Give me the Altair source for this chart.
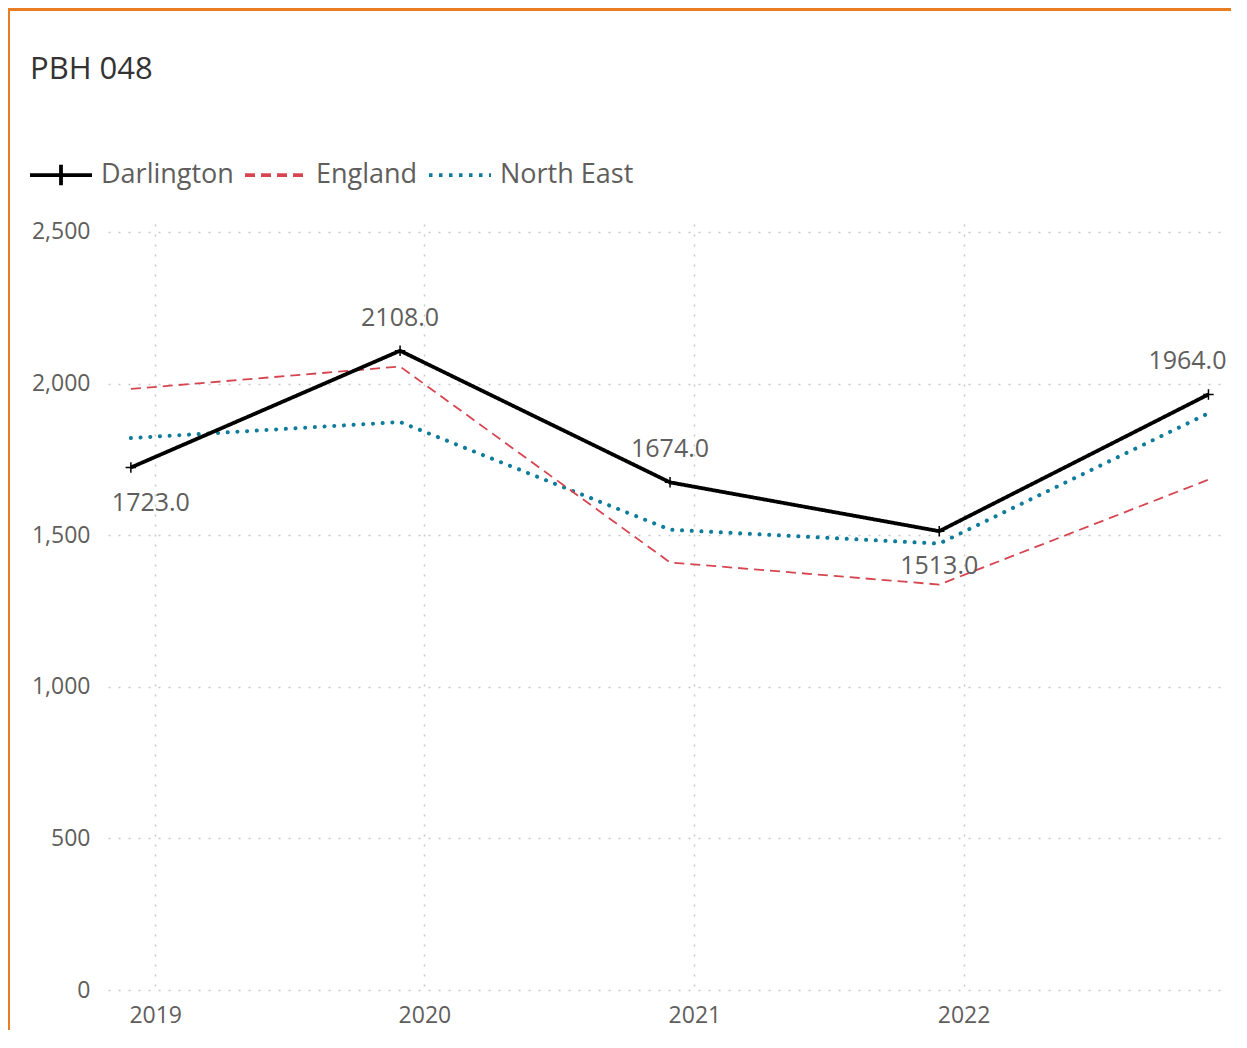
import altair as alt
import pandas as pd

series_names = ["Darlington", "England", "North East"]
dates = ["2018-11-29", "2019-11-29", "2020-11-29", "2021-11-29", "2022-11-29"]
darlington = [1723, 2108, 1674, 1513, 1964]
england = [1982, 2056, 1410, 1337, 1683]
north_east = [1820, 1873, 1518, 1472, 1902]
tick_years = ["2019-01-01", "2020-01-01", "2021-01-01", "2022-01-01"]
y_ticks = [0, 500, 1000, 1500, 2000, 2500]

colors = ["#000000", "#D64550", "#0E7C9A"]
legend_dashes = [[1, 0], [10, 6], [3.5, 6.5]]
legend_paths = ["M-1,0L1,0M0,-0.33L0,0.33",
                "M-1,0L1,0M0,-0.33M0,0.33",
                "M-1,0L1,0M0,-0.33M0,0.33"]

rows = []
for name, vals in zip(series_names, [darlington, england, north_east]):
    for d, v in zip(dates, vals):
        rows.append({"series": name, "date": d, "value": v})
df = pd.DataFrame(rows)

dar = pd.DataFrame({"date": dates, "value": darlington})
prev = dar["value"].shift(1)
nxt = dar["value"].shift(-1)
dar["below"] = ((prev.isna()) | (dar["value"] < prev)) & ((nxt.isna()) | (dar["value"] < nxt))
dar["idx"] = range(len(dar))
dar["n"] = len(dar)
dar["label"] = dar["value"].map(lambda v: f"{v:.1f}")

FONT = "Segoe UI, Open Sans"
TXT = "#605E5C"

x_scale = alt.Scale(domain=["2018-10-29", "2022-12-16"])
y_scale = alt.Scale(domain=[0, 2526], nice=False, zero=True)

x_enc = alt.X("date:T", scale=x_scale,
              axis=alt.Axis(values=tick_years, format="%Y", title=None,
                            labelFontSize=23, labelColor=TXT, labelFont=FONT,
                            labelPadding=14, ticks=False, domain=False,
                            grid=True, gridDash=[2, 8], gridColor="#C8C8C8",
                            gridWidth=1.5, labelAngle=0))
y_enc = alt.Y("value:Q", scale=y_scale,
              axis=alt.Axis(values=y_ticks, format=",.0f", title=None,
                            labelFontSize=23, labelColor=TXT, labelFont=FONT,
                            labelPadding=18, ticks=False, domain=False,
                            grid=True, gridDash=[2, 8], gridColor="#C8C8C8",
                            gridWidth=1.5))

color_enc = alt.Color("series:N", scale=alt.Scale(domain=series_names, range=colors),
                      legend=alt.Legend(title=None, orient="none", direction="horizontal",
                                        legendX=-80, legendY=-82,
                                        labelFontSize=27, labelColor=TXT, labelFont=FONT,
                                        symbolSize=3844, symbolStrokeWidth=3.8,
                                        symbolOpacity=1, columnPadding=3,
                                        labelOffset=7))
dash_enc = alt.StrokeDash("series:N", scale=alt.Scale(domain=series_names, range=legend_dashes),
                          legend=alt.Legend(title=None))
shape_enc = alt.Shape("series:N", scale=alt.Scale(domain=series_names, range=legend_paths),
                      legend=alt.Legend(title=None))

base = alt.Chart(df)


def line_layer(name, dash, width, cap):
    return base.transform_filter(alt.datum.series == name).mark_line(
        strokeDash=dash, strokeWidth=width, strokeCap=cap
    ).encode(x=x_enc, y=y_enc, color=color_enc)


line_ne = line_layer("North East", [0.1, 9.6], 4, "round")
line_en = line_layer("England", [10, 6], 1.8, "butt")
line_da = line_layer("Darlington", [1, 0], 3.8, "butt")

legend_points = base.mark_point(opacity=0, filled=False).encode(
    x="date:T", y="value:Q", color=color_enc, shape=shape_enc, strokeDash=dash_enc
)

dbase = alt.Chart(dar)
crosses = dbase.mark_point(shape="M-1,0L1,0M0,-1L0,1", size=110, filled=False,
                           color="#000000", strokeWidth=1.5, opacity=1).encode(
    x="date:T", y="value:Q"
)

labels = dbase.mark_text(
    fontSize=25, color=TXT, font=FONT, baseline="middle",
    dy=alt.expr("datum.below ? 35 : -33"),
    dx=alt.expr("datum.idx == 0 ? 20 : (datum.idx == datum.n - 1 ? -21 : 0)"),
).encode(x="date:T", y="value:Q", text="label:N")

border_top = alt.Chart(pd.DataFrame({"k": [0]})).mark_rule(
    color="#E87D23", strokeWidth=3).encode(
    x=alt.value(-100), x2=alt.value(1200), y=alt.value(-214.5))
border_left = alt.Chart(pd.DataFrame({"k": [0]})).mark_rule(
    color="#E87D23", strokeWidth=3).encode(
    x=alt.value(-99.5), y=alt.value(-216), y2=alt.value(900))

chart = alt.layer(border_top, border_left, line_ne, line_en, line_da,
                  legend_points, crosses, labels).properties(
    width=1113, height=766,
    padding={"left": 100, "top": 216, "right": 10, "bottom": 40},
    autosize=alt.AutoSizeParams(type="none"),
    title=alt.TitleParams("PBH 048", anchor="start", frame="group", fontSize=31,
                          font=FONT, fontWeight="normal", color="#333333",
                          dx=-78, dy=79, offset=0),
).configure_view(stroke=None).configure_legend(symbolOpacity=1)

chart.save("out.html", embed_options={"renderer": "svg", "actions": False})
